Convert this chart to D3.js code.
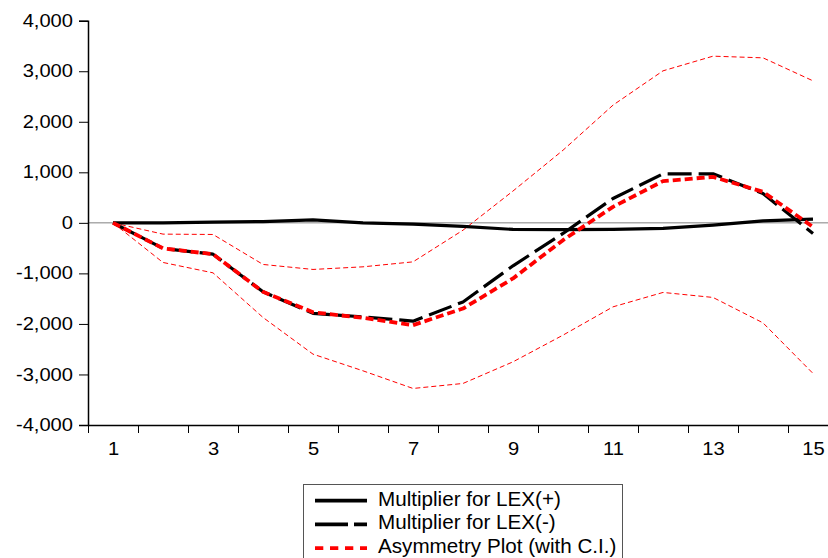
<!DOCTYPE html>
<html>
<head>
<meta charset="utf-8">
<script src="https://cdn.jsdelivr.net/npm/d3@7"></script>
<style>
  body { margin: 0; background: #fff; }
  svg { display: block; font-family: "Liberation Sans", Arial, sans-serif; }
</style>
</head>
<body>
<div id="chart"></div>
<script>
// horizon 1..15
const periods = d3.range(1, 16);
const yTicks = [-4000, -3000, -2000, -1000, 0, 1000, 2000, 3000, 4000];
const xLabels = [1, 3, 5, 7, 9, 11, 13, 15];

const lexPos = [0, 0, 15, 25, 60, 0, -25, -70, -130, -135, -130, -110, -45, 40, 73];
const lexNeg = [0, -505, -620, -1365, -1790, -1860, -1945, -1565, -850, -210, 483, 970, 970, 580, -210];
const asym = [0, -505, -620, -1365, -1770, -1880, -2024, -1695, -1100, -342, 317, 825, 910, 613, -80];
const ciUpper = [0, -223, -230, -823, -922, -870, -772, -145, 630, 1437, 2329, 3008, 3298, 3265, 2810];
const ciLower = [0, -784, -989, -1872, -2598, -2928, -3277, -3178, -2750, -2222, -1662, -1377, -1476, -1979, -2980];

const legendItems = ['Multiplier for LEX(+)', 'Multiplier for LEX(-)', 'Asymmetry Plot (with C.I.)'];

const width = 828, height = 558;
const mLeft = 88, mTop = 20.7, mBottom = 425;

const svg = d3.select('#chart').append('svg')
  .attr('width', width)
  .attr('height', height);

const x = d3.scaleLinear().domain([0.5, 15.5]).range([mLeft, mLeft + 750]);
const y = d3.scaleLinear().domain([-4000, 4000]).range([mBottom, mTop]);

// plain hyphen for negatives, like the original
const fmt = d3.formatLocale({ decimal: '.', thousands: ',', grouping: [3], currency: ['', ''], minus: '-' }).format(',');

// text in the original is a bit wider than it is tall
function widen(sel, k) {
  sel.each(function () {
    const w = this.getComputedTextLength();
    d3.select(this).attr('textLength', w * k).attr('lengthAdjust', 'spacingAndGlyphs');
  });
}

// zero line
svg.append('line')
  .attr('x1', mLeft).attr('x2', width)
  .attr('y1', y(0)).attr('y2', y(0))
  .attr('stroke', '#808080').attr('stroke-width', 1);

const line = d3.line().x((d, i) => x(periods[i])).y(d => y(d));

function draw(data, color, w, dash) {
  svg.append('path')
    .datum(data)
    .attr('d', line)
    .attr('fill', 'none')
    .attr('stroke', color)
    .attr('stroke-width', w)
    .attr('stroke-dasharray', dash)
    .attr('stroke-linejoin', 'round');
}

draw(ciUpper, '#ff0000', 1, '5,3');
draw(ciLower, '#ff0000', 1, '5,3');
draw(lexPos, '#000', 3.2, null);
draw(lexNeg, '#000', 3.2, '24,7');
draw(asym, '#ff0000', 3.8, '8,4');

// axes
const yAxis = svg.append('g')
  .attr('transform', `translate(${mLeft},0)`)
  .call(d3.axisLeft(y).tickValues(yTicks).tickFormat(fmt).tickSize(9).tickPadding(6));

const xAxis = svg.append('g')
  .attr('transform', `translate(0,${mBottom})`)
  .call(d3.axisBottom(x).tickValues(d3.range(0.5, 16, 1)).tickFormat('').tickSize(8));

xAxis.select('.domain').attr('d', `M${mLeft},0.5H${width}`);

const xLab = svg.append('g')
  .attr('transform', `translate(0,${mBottom})`)
  .call(d3.axisBottom(x).tickValues(xLabels).tickFormat(d3.format('d')).tickSize(0).tickPadding(17.6));
xLab.select('.domain').remove();

[yAxis, xAxis, xLab].forEach(g => {
  g.selectAll('text').attr('font-size', 17.5).attr('fill', '#000')
    .attr('font-family', '"Liberation Sans", Arial, sans-serif');
  g.selectAll('line').attr('stroke', '#000');
  g.select('.domain').attr('stroke', '#000').attr('stroke-width', 1.5);
});
widen(yAxis.selectAll('text'), 1.15);
widen(xLab.selectAll('text'), 1.15);

// legend
const lg = svg.append('g');
lg.append('rect')
  .attr('x', 303.5).attr('y', 484.5)
  .attr('width', 319).attr('height', 90)
  .attr('fill', '#fff').attr('stroke', '#555').attr('stroke-width', 1);

const legStyle = [
  { c: '#000', w: 3.8, d: null },
  { c: '#000', w: 3.8, d: '33,6' },
  { c: '#ff0000', w: 3.8, d: '8.3,6.7' }
];

legendItems.forEach((t, i) => {
  const base = 505.7 + i * 23.7;
  lg.append('line')
    .attr('x1', 315).attr('x2', 367)
    .attr('y1', base - 5).attr('y2', base - 5)
    .attr('stroke', legStyle[i].c)
    .attr('stroke-width', legStyle[i].w)
    .attr('stroke-dasharray', legStyle[i].d);
  lg.append('text')
    .attr('x', 378).attr('y', base)
    .attr('font-size', 19.3)
    .text(t)
    .call(widen, 1.07);
});
</script>
</body>
</html>
